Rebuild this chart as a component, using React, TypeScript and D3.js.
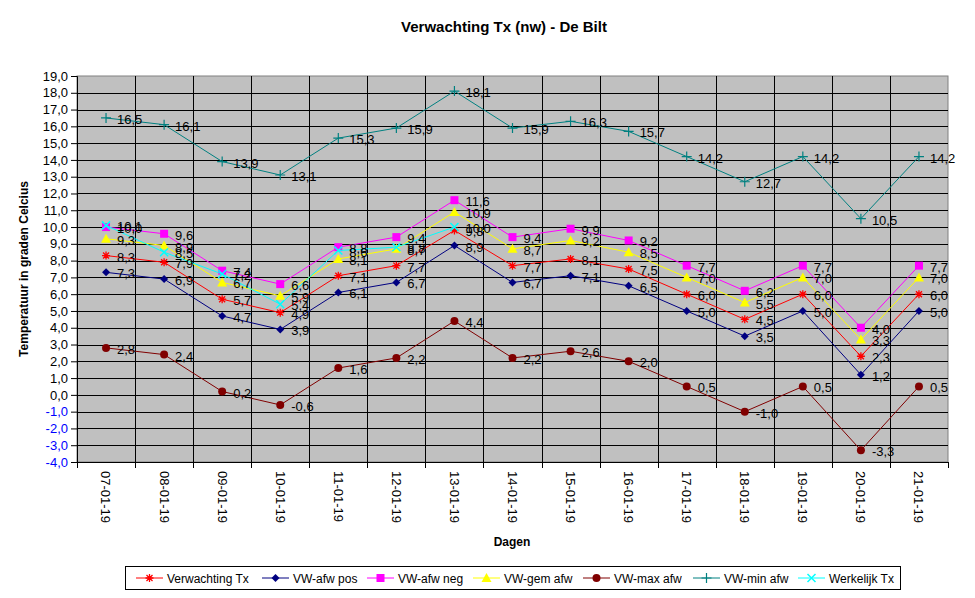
import * as d3 from 'd3';
import React, { useEffect, useRef } from 'react';

const days = [
  '07-01-19', '08-01-19', '09-01-19', '10-01-19', '11-01-19', '12-01-19', '13-01-19', '14-01-19',
  '15-01-19', '16-01-19', '17-01-19', '18-01-19', '19-01-19', '20-01-19', '21-01-19',
];

const verwachting = [8.3, 7.9, 5.7, 4.9, 7.1, 7.7, 9.8, 7.7, 8.1, 7.5, 6.0, 4.5, 6.0, 2.3, 6.0];
const afwPos = [7.3, 6.9, 4.7, 3.9, 6.1, 6.7, 8.9, 6.7, 7.1, 6.5, 5.0, 3.5, 5.0, 1.2, 5.0];
const afwNeg = [10.0, 9.6, 7.4, 6.6, 8.8, 9.4, 11.6, 9.4, 9.9, 9.2, 7.7, 6.2, 7.7, 4.0, 7.7];
const gemAfw = [9.3, 8.9, 6.7, 5.9, 8.1, 8.7, 10.9, 8.7, 9.2, 8.5, 7.0, 5.5, 7.0, 3.3, 7.0];
const maxAfw = [2.8, 2.4, 0.2, -0.6, 1.6, 2.2, 4.4, 2.2, 2.6, 2.0, 0.5, -1.0, 0.5, -3.3, 0.5];
const minAfw = [16.5, 16.1, 13.9, 13.1, 15.3, 15.9, 18.1, 15.9, 16.3, 15.7, 14.2, 12.7, 14.2, 10.5, 14.2];
const werkelijk: (number | null)[] = [10.1, 8.5, 7.2, 5.4, 8.6, 8.8, 10.0, null, null, null, null, null, null, null, null];

const yTicks = d3.range(-4, 20, 1);

type Marker = 'star' | 'diamond' | 'square' | 'triangle' | 'circle' | 'plus' | 'x';

const series: { name: string; values: (number | null)[]; color: string; marker: Marker }[] = [
  { name: 'Verwachting Tx', values: verwachting, color: '#FF0000', marker: 'star' },
  { name: 'VW-afw pos', values: afwPos, color: '#000080', marker: 'diamond' },
  { name: 'VW-afw neg', values: afwNeg, color: '#FF00FF', marker: 'square' },
  { name: 'VW-gem afw', values: gemAfw, color: '#FFFF00', marker: 'triangle' },
  { name: 'VW-max afw', values: maxAfw, color: '#800000', marker: 'circle' },
  { name: 'VW-min afw', values: minAfw, color: '#008080', marker: 'plus' },
  { name: 'Werkelijk Tx', values: werkelijk, color: '#00FFFF', marker: 'x' },
];

const fmt = (v: number) => d3.format('.1f')(v).replace('.', ',').replace('−', '-');

// draw a marker centred on (x, y)
function drawMarker(g: d3.Selection<SVGGElement, unknown, null, undefined>, type: Marker, x: number, y: number, color: string) {
  const s = 4;
  if (type === 'star') {
    const d = `M${x - s},${y}L${x + s},${y}M${x},${y - s}L${x},${y + s}M${x - 3},${y - 3}L${x + 3},${y + 3}M${x - 3},${y + 3}L${x + 3},${y - 3}`;
    g.append('path').attr('d', d).attr('stroke', color).attr('stroke-width', 1.3).attr('fill', 'none');
  } else if (type === 'diamond') {
    g.append('path').attr('d', `M${x},${y - 4}L${x + 4},${y}L${x},${y + 4}L${x - 4},${y}Z`).attr('fill', color);
  } else if (type === 'square') {
    g.append('rect').attr('x', x - 4).attr('y', y - 4).attr('width', 8).attr('height', 8).attr('fill', color);
  } else if (type === 'triangle') {
    g.append('path').attr('d', `M${x},${y - 5}L${x + 5},${y + 4}L${x - 5},${y + 4}Z`).attr('fill', color);
  } else if (type === 'circle') {
    g.append('circle').attr('cx', x).attr('cy', y).attr('r', 4).attr('fill', color);
  } else if (type === 'plus') {
    g.append('path').attr('d', `M${x - 5},${y}L${x + 5},${y}M${x},${y - 5}L${x},${y + 5}`)
      .attr('stroke', color).attr('stroke-width', 1.2).attr('fill', 'none');
  } else {
    g.append('path').attr('d', `M${x - 4},${y - 4}L${x + 4},${y + 4}M${x - 4},${y + 4}L${x + 4},${y - 4}`)
      .attr('stroke', color).attr('stroke-width', 1.5).attr('fill', 'none');
  }
}

const App: React.FC = () => {
  const svgRef = useRef<SVGSVGElement>(null);
  const width = 975;
  const height = 598;

  useEffect(() => {
    if (!svgRef.current) return;
    const svg = d3.select(svgRef.current);
    svg.selectAll('*').remove();

    const font = 'Arial, "Liberation Sans", sans-serif';
    const plot = { left: 77, top: 76, right: 948, bottom: 462 };

    const x = d3.scaleBand<string>().domain(days).range([plot.left, plot.right]);
    const y = d3.scaleLinear().domain([-4, 19]).range([plot.bottom, plot.top]);
    const cx = (d: string) => (x(d) ?? 0) + x.bandwidth() / 2;

    svg.append('rect').attr('width', width).attr('height', height).attr('fill', 'white');

    // plot area
    svg.append('rect')
      .attr('x', plot.left).attr('y', plot.top)
      .attr('width', plot.right - plot.left).attr('height', plot.bottom - plot.top)
      .attr('fill', '#C0C0C0').attr('stroke', '#808080');

    // horizontal grid
    svg.append('g').selectAll('line').data(yTicks.slice(1, -1)).join('line')
      .attr('x1', plot.left).attr('x2', plot.right)
      .attr('y1', d => Math.round(y(d)) + 0.5).attr('y2', d => Math.round(y(d)) + 0.5)
      .attr('stroke', 'black');

    // vertical grid at category boundaries
    svg.append('g').selectAll('line').data(days.slice(1)).join('line')
      .attr('x1', d => Math.round(x(d) ?? 0) + 0.5).attr('x2', d => Math.round(x(d) ?? 0) + 0.5)
      .attr('y1', plot.top).attr('y2', plot.bottom)
      .attr('stroke', 'black');

    // y axis
    const yAxis = svg.append('g').attr('transform', `translate(${plot.left},0)`)
      .call(d3.axisLeft(y).tickValues(yTicks).tickSize(6).tickPadding(3).tickFormat(d => fmt(d as number)));
    yAxis.select('.domain').attr('stroke', 'black');
    yAxis.selectAll('.tick line').attr('stroke', 'black');
    yAxis.selectAll('.tick text')
      .style('font-size', '13px').style('font-family', font)
      .attr('fill', d => ((d as number) < 0 ? '#0000FF' : 'black'));

    // x axis
    const xAxis = svg.append('g').attr('transform', `translate(0,${plot.bottom})`)
      .call(d3.axisBottom(x).tickSize(0).tickFormat(d => d));
    xAxis.select('.domain').attr('stroke', 'black');
    xAxis.selectAll('.tick text')
      .attr('transform', 'rotate(90)')
      .attr('x', 9).attr('y', 0).attr('dy', '0.35em')
      .attr('text-anchor', 'start')
      .style('font-size', '13px').style('font-family', font).attr('fill', 'black');
    svg.append('g').selectAll('line').data(days.concat(['end'])).join('line')
      .attr('x1', (d, i) => Math.round(plot.left + i * x.bandwidth()) + 0.5)
      .attr('x2', (d, i) => Math.round(plot.left + i * x.bandwidth()) + 0.5)
      .attr('y1', plot.bottom).attr('y2', plot.bottom + 6)
      .attr('stroke', 'black');

    // series lines and markers
    const line = d3.line<number | null>()
      .defined(d => d !== null)
      .x((d, i) => cx(days[i]))
      .y(d => y(d as number));

    series.forEach(s => {
      const g = svg.append('g');
      g.append('path').datum(s.values).attr('d', line)
        .attr('fill', 'none').attr('stroke', s.color).attr('stroke-width', 1);
      s.values.forEach((v, i) => {
        if (v !== null) drawMarker(g, s.marker, cx(days[i]), y(v), s.color);
      });
    });

    // data labels
    series.forEach(s => {
      svg.append('g').selectAll('text')
        .data(s.values.map((v, i) => ({ v, day: days[i] })).filter(d => d.v !== null))
        .join('text')
        .attr('x', d => cx(d.day) + 11)
        .attr('y', d => y(d.v as number) + 6)
        .style('font-size', '13px').style('font-family', font)
        .attr('fill', 'black')
        .text(d => fmt(d.v as number));
    });

    // titles
    svg.append('text').attr('x', 504).attr('y', 32).attr('text-anchor', 'middle')
      .style('font-size', '15px').style('font-weight', 'bold').style('font-family', font)
      .text('Verwachting Tx (nw) - De Bilt');
    svg.append('text').attr('x', 512).attr('y', 546).attr('text-anchor', 'middle')
      .style('font-size', '12px').style('font-weight', 'bold').style('font-family', font)
      .text('Dagen');
    svg.append('text').attr('transform', `translate(28,${(plot.top + plot.bottom) / 2}) rotate(-90)`)
      .attr('text-anchor', 'middle')
      .style('font-size', '12px').style('font-weight', 'bold').style('font-family', font)
      .text('Temperatuur in graden Celcius');

    // legend
    const legend = svg.append('g');
    legend.append('rect').attr('x', 125.5).attr('y', 566.5).attr('width', 775).attr('height', 23)
      .attr('fill', 'white').attr('stroke', 'black');
    const legendX = [136, 262, 367, 473, 583, 693, 798];
    series.forEach((s, i) => {
      const lx = legendX[i];
      const ly = 578;
      legend.append('line').attr('x1', lx).attr('x2', lx + 27).attr('y1', ly).attr('y2', ly)
        .attr('stroke', s.color);
      drawMarker(legend, s.marker, lx + 13.5, ly, s.color);
      legend.append('text').attr('x', lx + 31).attr('y', ly + 4.5)
        .style('font-size', '12px').style('font-family', font).attr('fill', 'black')
        .text(s.name);
    });
  }, []);

  return (
    <svg
      ref={svgRef}
      width={width}
      height={height}
      style={{ position: 'absolute', left: 0, top: 0 }}
    />
  );
};

export default App;
